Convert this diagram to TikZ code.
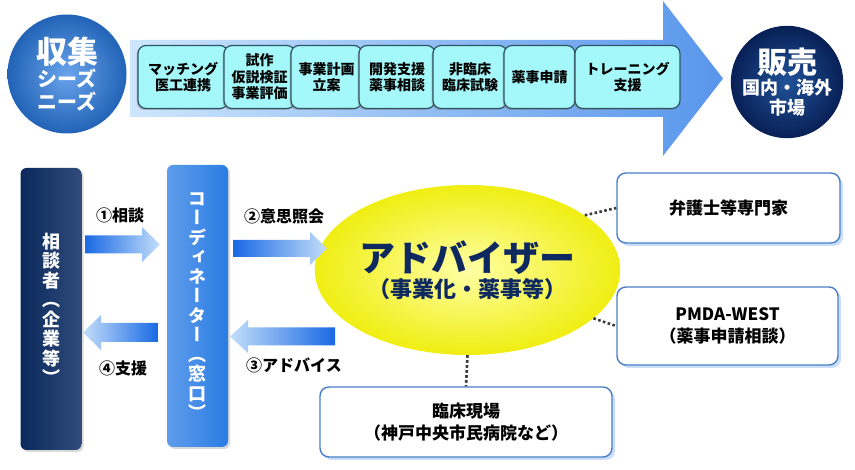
\documentclass[tikz,border=0pt]{standalone}
\usepackage{fontspec}
\setmainfont{Noto Sans CJK JP}
\newfontfamily\vjp{Noto Sans CJK JP}[RawFeature=+vert]
\usetikzlibrary{positioning,shapes.geometric,shadows}

\definecolor{navy}{RGB}{12,44,100}
\definecolor{midblue}{RGB}{42,124,228}
\definecolor{paleblue}{RGB}{205,230,252}
\definecolor{headblue}{RGB}{88,150,236}
\definecolor{stepcyan}{RGB}{165,248,250}
\definecolor{stepedge}{RGB}{45,85,100}
\definecolor{boxedge}{RGB}{72,126,200}
\definecolor{dotgray}{RGB}{60,60,60}
\definecolor{flowdark}{RGB}{25,105,228}
\definecolor{flowlight}{RGB}{195,222,250}

% block arrow: style, tail x, tip x, y, shaft half, head half, head base x
\newcommand\flowarrow[7]{%
  \shade[#1] (#2,#4-#5) -- (#7,#4-#5) -- (#7,#4-#6) -- (#3,#4)
    -- (#7,#4+#6) -- (#7,#4+#5) -- (#2,#4+#5) -- cycle;}

\begin{document}
\begin{tikzpicture}[
  x=1pt,y=-1pt,
  ball/.style={circle,inner sep=0pt,text=white,align=center,font=\bfseries,
    shading=radial},
  stepbox/.style={draw=stepedge,line width=1.2pt,fill=stepcyan,rounded corners=8pt,
    minimum height=63pt,inner sep=1pt,align=center,
    font=\bfseries\fontsize{14}{16.5}\selectfont,
    drop shadow={shadow xshift=-1.5pt,shadow yshift=-1.5pt,opacity=.45}},
  pillar/.style={rounded corners=6pt,minimum width=61pt,minimum height=282pt,
    inner sep=0pt,text=white,align=center,
    font=\vjp\bfseries\fontsize{18}{19.5}\selectfont,
    drop shadow={shadow xshift=2pt,shadow yshift=-2pt,opacity=.3}},
  toright/.style={left color=flowdark,right color=flowlight},
  toleft/.style={left color=flowlight,right color=flowdark},
  tag/.style={font=\bfseries\fontsize{16}{18}\selectfont,inner sep=1pt},
  party/.style={draw=boxedge,line width=1.4pt,fill=white,rounded corners=9pt,
    align=center,font=\bfseries\fontsize{17}{22}\selectfont,
    drop shadow={shadow xshift=3pt,shadow yshift=-3pt,fill=headblue!45,opacity=.7}},
  link/.style={dotgray,line width=2.6pt,dash pattern=on 2.6pt off 2.4pt}
]
  \useasboundingbox (0,0) rectangle (855,470);

  % upper stream
  \flowarrow{left color=paleblue,right color=headblue}{130}{723}{78.5}{38.5}{77.5}{663}

  \node[ball,minimum size=119pt,inner color=midblue!70!white,outer color=midblue!80!black]
    (seeds) at (67,74)
    {\fontsize{31}{34}\selectfont 収集\\[1pt]
     \fontsize{20}{22}\selectfont シーズ\\[3pt]
     \fontsize{20}{22}\selectfont ニーズ};
  \node[ball,minimum size=111pt,inner color={rgb,255:red,32;green,82;blue,152},
    outer color={rgb,255:red,8;green,32;blue,86}]
    (market) at (787,82)
    {\fontsize{30}{34}\selectfont 販売\\[1pt]
     \fontsize{18}{21}\selectfont 国内・海外\\[2pt]
     \fontsize{18}{21}\selectfont 市場};

  \node[stepbox,minimum width=90pt] (match) at (183,77) {マッチング\\医工連携};
  \node[stepbox,minimum width=71pt] (proto) at (259.5,77) {試作\\仮説検証\\事業評価};
  \node[stepbox,minimum width=71pt] (plan) at (326.5,77) {事業計画\\立案};
  \node[stepbox,minimum width=76pt] (devel) at (397,77) {開発支援\\薬事相談};
  \node[stepbox,minimum width=74pt] (trial) at (470,77) {非臨床\\臨床試験};
  \node[stepbox,minimum width=71pt] (apply) at (539.5,77) {薬事申請};
  \node[stepbox,minimum width=105pt] (train) at (627.5,77) {トレーニング\\支援};

  % lower flow
  \node[pillar,left color=navy!92!black,right color=navy!85!white] (client) at (51,309)
    {相\\談\\者\\（\\企\\業\\等\\）};
  \node[pillar,left color=midblue!75!white,right color=midblue] (coord) at (197.5,306)
    {コ\\ー\\デ\\ィ\\ネ\\ー\\タ\\ー\\（\\窓\\口\\）};

  \node[ellipse,minimum width=251pt,minimum height=170pt,shading=radial,
    inner color={rgb,255:red,255;green,255;blue,165},
    outer color={rgb,255:red,240;green,238;blue,18},
    text={rgb,255:red,14;green,40;blue,96},align=center,inner sep=0pt,
    font=\bfseries]
    (advisor) at (467.5,270)
    {\fontsize{36}{38}\selectfont アドバイザー\\[3pt]
     \fontsize{22}{24}\selectfont （事業化・薬事等）};

  \flowarrow{toright}{85}{160}{244.5}{9}{17.5}{142}
  \flowarrow{toright}{233}{327}{248.5}{8.5}{16.5}{310}
  \flowarrow{toleft}{335}{230}{336.5}{9}{16.5}{248}
  \flowarrow{toleft}{158}{83}{332.5}{9.5}{17.5}{101}

  \node[tag] (askt) at (120,215) {①相談};
  \node[tag] (queryt) at (284,216) {②意思照会};
  \node[tag] (advicet) at (294,365) {③アドバイス};
  \node[tag] (supportt) at (123,368) {④支援};

  \node[party,minimum width=223pt,minimum height=70pt] (lawyer) at (728.5,208)
    {弁護士等専門家};
  \node[party,minimum width=221pt,minimum height=78pt] (pmda) at (727.5,326)
    {PMDA-WEST\\（薬事申請相談）};
  \node[party,minimum width=292pt,minimum height=70pt] (clinic) at (466,422)
    {臨床現場\\（神戸中央市民病院など）};

  \draw[link] (advisor.25) -- (lawyer.west);
  \draw[link] (advisor.-21) -- (pmda.west);
  \draw[link] (advisor.south) -- (clinic.north);
\end{tikzpicture}
\end{document}
